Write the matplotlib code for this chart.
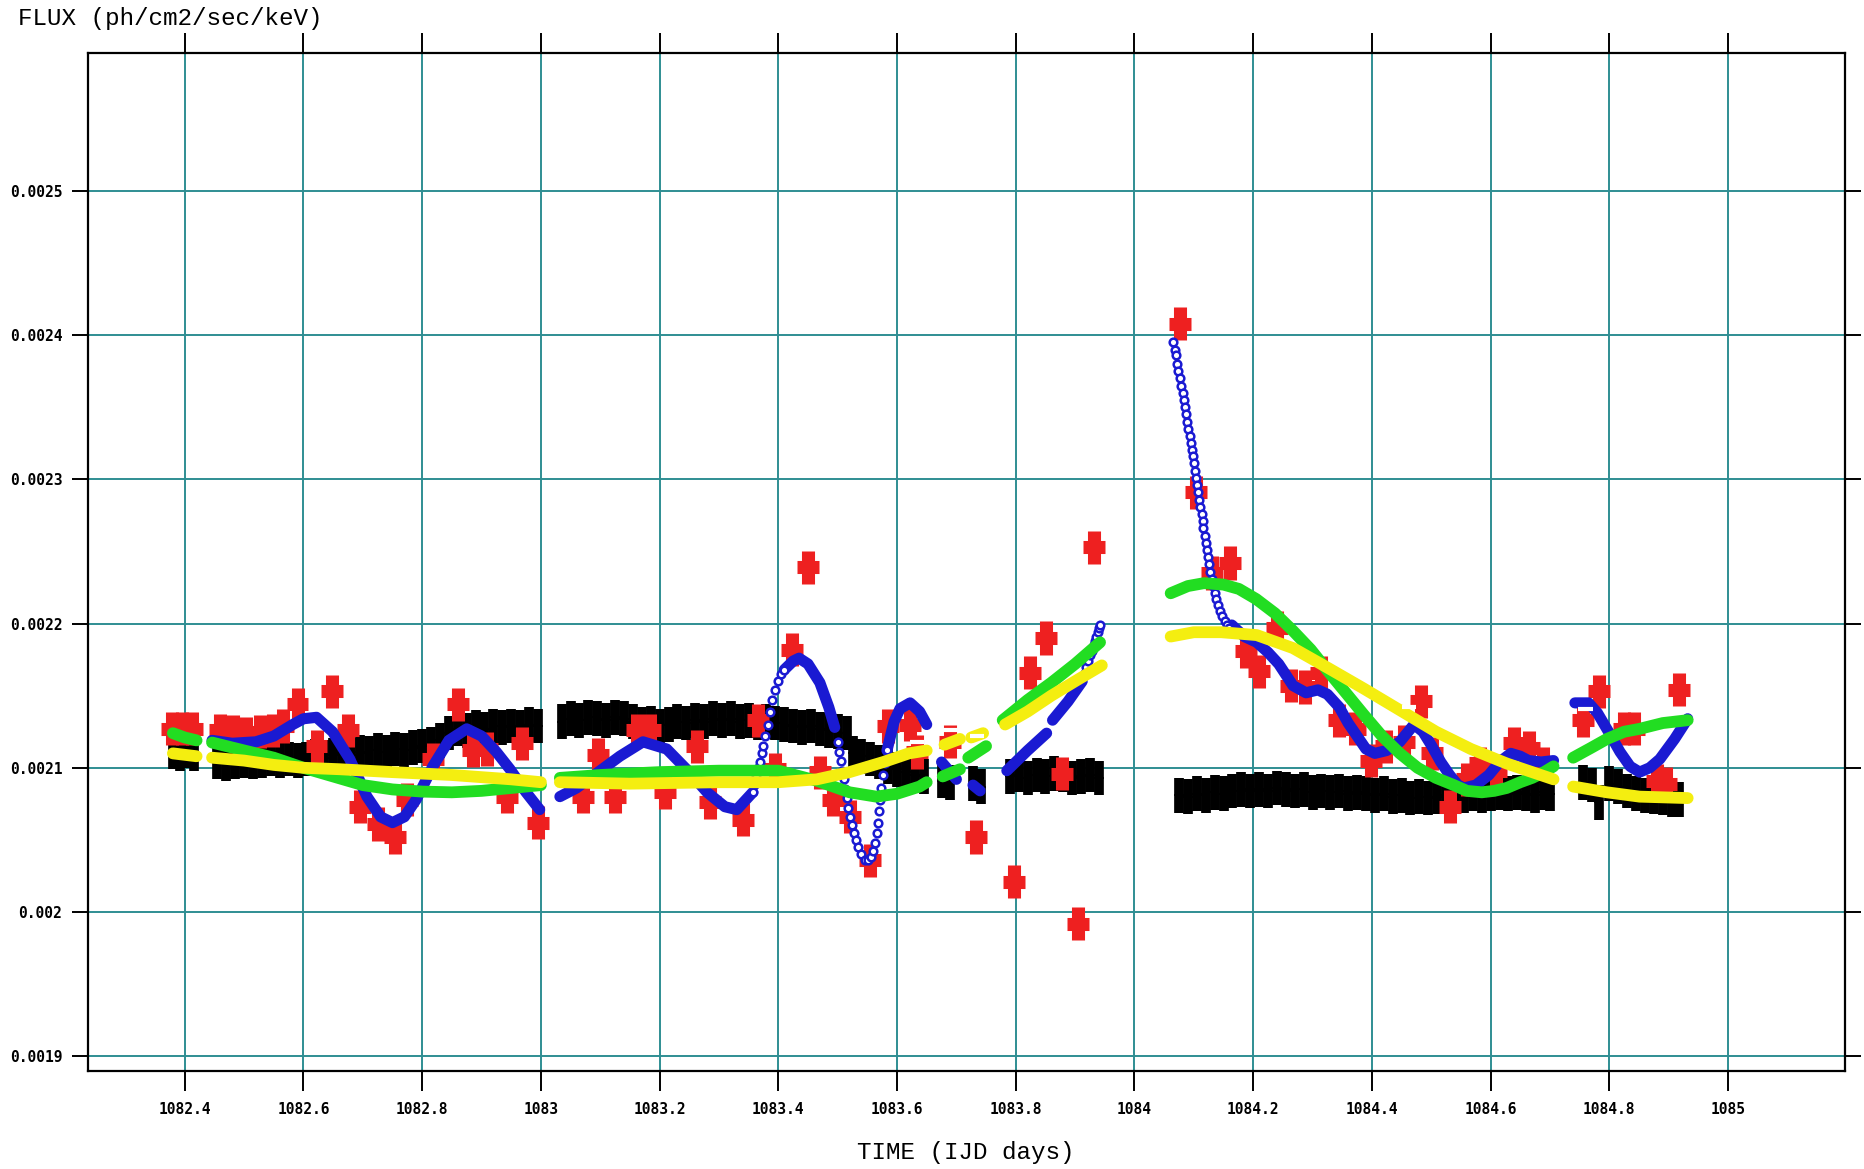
import matplotlib
matplotlib.use("Agg")
import matplotlib.pyplot as plt

# ---- light curve (red crosses) ----
red_t = [1082.378, 1082.395, 1082.412, 1082.459, 1082.481, 1082.504, 1082.526, 1082.548,
         1082.565, 1082.590, 1082.622, 1082.648, 1082.675, 1082.695, 1082.725, 1082.754,
         1082.774, 1082.818, 1082.860, 1082.885, 1082.909, 1082.943, 1082.968, 1082.995,
         1083.071, 1083.097, 1083.125, 1083.162, 1083.184, 1083.209, 1083.263, 1083.285,
         1083.340, 1083.365, 1083.394, 1083.423, 1083.450, 1083.470, 1083.492, 1083.520,
         1083.554, 1083.584, 1083.622, 1083.633, 1083.689, 1083.733, 1083.797, 1083.824,
         1083.851, 1083.878, 1083.905, 1083.932, 1084.077, 1084.103, 1084.131, 1084.161,
         1084.188, 1084.210, 1084.240, 1084.264, 1084.287, 1084.314, 1084.345, 1084.371,
         1084.398, 1084.424, 1084.454, 1084.483, 1084.501, 1084.531, 1084.560, 1084.582,
         1084.609, 1084.640, 1084.665, 1084.688, 1084.755, 1084.782, 1084.825, 1084.841,
         1084.880, 1084.895, 1084.917]
red_f = [0.002127, 0.002127, 0.002127, 0.002126, 0.002125, 0.002124, 0.002125, 0.002126,
         0.002129, 0.002144, 0.002115, 0.002153, 0.002126, 0.002073, 0.002061, 0.002052,
         0.002078, 0.002106, 0.002144, 0.002112, 0.002113, 0.002080, 0.002117, 0.002062,
         0.002080, 0.002109, 0.002080, 0.002126, 0.002126, 0.002083, 0.002115, 0.002076,
         0.002064, 0.002133, 0.002099, 0.002182, 0.002239, 0.002097, 0.002078, 0.002066,
         0.002036, 0.002129, 0.002130, 0.002111, 0.002118, 0.002052, 0.002021, 0.002166,
         0.002190, 0.002096, 0.001992, 0.002253, 0.002408, 0.002291, 0.002235, 0.002242,
         0.002181, 0.002167, 0.002197, 0.002157, 0.002156, 0.002166, 0.002133, 0.002127,
         0.002105, 0.002115, 0.002118, 0.002146, 0.002110, 0.002073, 0.002092, 0.002103,
         0.002098, 0.002117, 0.002114, 0.002103, 0.002133, 0.002153, 0.002127, 0.002127,
         0.002091, 0.002089, 0.002154]

# ---- background level (black squares) ----
blk_t = [1082.380, 1082.392, 1082.404, 1082.416,
         1082.455, 1082.470, 1082.485, 1082.500, 1082.515, 1082.530, 1082.545, 1082.560,
         1082.575, 1082.590, 1082.605, 1082.620, 1082.635, 1082.650, 1082.665, 1082.680,
         1082.695, 1082.710, 1082.725, 1082.740, 1082.755, 1082.770, 1082.785, 1082.800,
         1082.815, 1082.830, 1082.845, 1082.860, 1082.875, 1082.890, 1082.905, 1082.920,
         1082.935, 1082.950, 1082.965, 1082.980, 1082.995,
         1083.035, 1083.050, 1083.065, 1083.080, 1083.095, 1083.110, 1083.125, 1083.140,
         1083.155, 1083.170, 1083.185, 1083.200, 1083.215, 1083.230, 1083.245, 1083.260,
         1083.275, 1083.290, 1083.305, 1083.320, 1083.335, 1083.350, 1083.365, 1083.380,
         1083.395, 1083.410, 1083.425, 1083.440, 1083.455, 1083.470, 1083.485, 1083.500,
         1083.515,
         1083.525, 1083.540, 1083.555, 1083.570, 1083.585, 1083.600, 1083.615, 1083.630,
         1083.645,
         1083.675, 1083.690, 1083.728, 1083.742,
         1083.790, 1083.805, 1083.820, 1083.835, 1083.850, 1083.865, 1083.880, 1083.895,
         1083.910, 1083.925, 1083.940,
         1084.075, 1084.090, 1084.105, 1084.120, 1084.135, 1084.150, 1084.165, 1084.180,
         1084.195, 1084.210, 1084.225, 1084.240, 1084.255, 1084.270, 1084.285, 1084.300,
         1084.315, 1084.330, 1084.345, 1084.360, 1084.375, 1084.390, 1084.405, 1084.420,
         1084.435, 1084.450, 1084.465, 1084.480, 1084.495, 1084.510, 1084.525, 1084.540,
         1084.555, 1084.570, 1084.585, 1084.600, 1084.615, 1084.630, 1084.645, 1084.660,
         1084.675, 1084.690, 1084.700,
         1084.755, 1084.770, 1084.782, 1084.800, 1084.815, 1084.830, 1084.845, 1084.860,
         1084.875, 1084.890, 1084.905, 1084.918]
blk_f = [0.002111, 0.002110, 0.002112, 0.002110,
         0.002104, 0.002103, 0.002104, 0.002105, 0.002104, 0.002105, 0.002106, 0.002105,
         0.002106, 0.002105, 0.002106, 0.002108, 0.002107, 0.002109, 0.002110, 0.002109,
         0.002111, 0.002110, 0.002112, 0.002111, 0.002113, 0.002112, 0.002114, 0.002115,
         0.002116, 0.002119, 0.002124, 0.002127, 0.002126, 0.002128, 0.002127, 0.002129,
         0.002128, 0.002129, 0.002128, 0.002130, 0.002129,
         0.002132, 0.002134, 0.002133, 0.002135, 0.002134, 0.002133, 0.002135, 0.002134,
         0.002132, 0.002130, 0.002131, 0.002129, 0.002130, 0.002132, 0.002131, 0.002133,
         0.002132, 0.002134, 0.002133, 0.002134, 0.002132, 0.002133, 0.002131, 0.002132,
         0.002131, 0.002130, 0.002129, 0.002128, 0.002129, 0.002127, 0.002126, 0.002125,
         0.002124,
         0.002110, 0.002108, 0.002106, 0.002104, 0.002101, 0.002099, 0.002097, 0.002095,
         0.002094,
         0.002091, 0.002090, 0.002089, 0.002087,
         0.002094, 0.002095, 0.002093, 0.002095, 0.002094, 0.002096, 0.002095, 0.002093,
         0.002094, 0.002095, 0.002093,
         0.002081, 0.002080, 0.002082, 0.002081, 0.002083, 0.002082, 0.002084, 0.002085,
         0.002084, 0.002085, 0.002084, 0.002086, 0.002085, 0.002084, 0.002085, 0.002083,
         0.002084, 0.002083, 0.002084, 0.002082, 0.002083, 0.002082, 0.002081, 0.002082,
         0.002080, 0.002081, 0.002079, 0.002080, 0.002079, 0.002080, 0.002081, 0.002080,
         0.002081, 0.002082, 0.002081, 0.002082, 0.002083, 0.002082, 0.002083, 0.002082,
         0.002081, 0.002083, 0.002082,
         0.002090, 0.002088, 0.002076, 0.002089, 0.002087, 0.002084, 0.002082, 0.002081,
         0.002080, 0.002079, 0.002078, 0.002078]

# ---- spline model (blue), dense pieces ----
blue_thick = [
    ([1082.446, 1082.48, 1082.52, 1082.55, 1082.582, 1082.60, 1082.622, 1082.649, 1082.678,
      1082.707, 1082.73, 1082.75, 1082.77, 1082.79, 1082.818, 1082.845, 1082.875, 1082.90,
      1082.925, 1082.948, 1082.975, 1082.998],
     [0.002119, 0.002117, 0.002118, 0.002122, 0.002130, 0.002134, 0.002135, 0.002125, 0.002106,
      0.002080, 0.002066, 0.002062, 0.002066, 0.002078, 0.002101, 0.002119, 0.002127, 0.002122,
      0.002111, 0.002099, 0.002083, 0.002071]),
    ([1083.032, 1083.06, 1083.10, 1083.133, 1083.172, 1083.212, 1083.25, 1083.28, 1083.31,
      1083.33, 1083.357],
     [0.002080, 0.002086, 0.002098, 0.002108, 0.002118, 0.002113, 0.002097, 0.002083, 0.002073,
      0.002071, 0.002083]),
    ([1083.41, 1083.425, 1083.435, 1083.45, 1083.47, 1083.485, 1083.495],
     [0.002168, 0.002174, 0.002176, 0.002172, 0.002159, 0.002142, 0.002128]),
    ([1083.583, 1083.595, 1083.605, 1083.622, 1083.638, 1083.65],
     [0.002112, 0.002132, 0.002141, 0.002145, 0.002139, 0.002130]),
    ([1083.675, 1083.70], [0.002104, 0.002092]),
    ([1083.728, 1083.74], [0.002088, 0.002084]),
    ([1083.785, 1083.82, 1083.852], [0.002098, 0.002112, 0.002124]),
    ([1083.862, 1083.888, 1083.912], [0.002133, 0.002146, 0.002160]),
    ([1084.164, 1084.185, 1084.206, 1084.225, 1084.243, 1084.267, 1084.289, 1084.309, 1084.325,
      1084.345, 1084.36, 1084.375, 1084.39, 1084.405, 1084.425, 1084.447, 1084.471, 1084.486,
      1084.501, 1084.516, 1084.531, 1084.545, 1084.555, 1084.575, 1084.597, 1084.615, 1084.634,
      1084.65, 1084.664, 1084.685, 1084.706],
     [0.002199, 0.002191, 0.002187, 0.002180, 0.002172, 0.002157, 0.002152, 0.002154, 0.002151,
      0.002142, 0.002131, 0.002122, 0.002113, 0.002110, 0.002112, 0.002118, 0.002130, 0.002125,
      0.002115, 0.002104, 0.002095, 0.002088, 0.002086, 0.002088, 0.002095, 0.002104, 0.002110,
      0.002108, 0.002105, 0.002104, 0.002105]),
    ([1084.742, 1084.765, 1084.78, 1084.80, 1084.818, 1084.835, 1084.851, 1084.868, 1084.885,
      1084.91, 1084.932],
     [0.002145, 0.002145, 0.002138, 0.002124, 0.002111, 0.002101, 0.002097, 0.002100, 0.002106,
      0.002120, 0.002134]),
]

# ---- spline model (blue), steep pieces where single circles show ----
blue_dots_t = [1083.357, 1083.360, 1083.363, 1083.366, 1083.369, 1083.372, 1083.375, 1083.378,
               1083.382, 1083.386, 1083.390, 1083.395, 1083.400, 1083.405, 1083.410,
               1083.500, 1083.503, 1083.505, 1083.508, 1083.510, 1083.513, 1083.515, 1083.518,
               1083.520, 1083.524, 1083.527, 1083.531, 1083.535, 1083.540, 1083.546, 1083.551,
               1083.556, 1083.560, 1083.563, 1083.566, 1083.568, 1083.570, 1083.571, 1083.573,
               1083.576, 1083.579, 1083.583,
               1083.916, 1083.919, 1083.922, 1083.925, 1083.928, 1083.931, 1083.933, 1083.936,
               1083.938, 1083.940, 1083.942,
               1084.065, 1084.068, 1084.070, 1084.072, 1084.074, 1084.077, 1084.079, 1084.081,
               1084.083, 1084.085, 1084.087, 1084.089, 1084.091, 1084.093, 1084.095, 1084.097,
               1084.098, 1084.100, 1084.102, 1084.104, 1084.105, 1084.107, 1084.109, 1084.111,
               1084.113, 1084.115, 1084.116, 1084.118, 1084.120, 1084.122, 1084.124, 1084.126,
               1084.127, 1084.130, 1084.132, 1084.135, 1084.137, 1084.140, 1084.144, 1084.148,
               1084.152, 1084.156, 1084.160, 1084.165, 1084.170]
blue_dots_f = [0.002083, 0.002089, 0.002095, 0.002100, 0.002104, 0.002110, 0.002115, 0.002122,
               0.002130, 0.002139, 0.002147, 0.002154, 0.002160, 0.002165, 0.002168,
               0.002118, 0.002111, 0.002105, 0.002098, 0.002092, 0.002085, 0.002079, 0.002072,
               0.002066, 0.002060, 0.002055, 0.002050, 0.002045, 0.002040, 0.002036, 0.002036,
               0.002038, 0.002042, 0.002048, 0.002055, 0.002062, 0.002070, 0.002078, 0.002086,
               0.002095, 0.002103, 0.002112,
               0.002166, 0.002170, 0.002174, 0.002178, 0.002181, 0.002185, 0.002188, 0.002191,
               0.002194, 0.002197, 0.002199,
               0.002395, 0.002390, 0.002386, 0.002380, 0.002375, 0.002370, 0.002365, 0.002360,
               0.002355, 0.002350, 0.002345, 0.002340, 0.002335, 0.002330, 0.002325, 0.002320,
               0.002316, 0.002311, 0.002306, 0.002301, 0.002296, 0.002291, 0.002286, 0.002281,
               0.002276, 0.002271, 0.002266, 0.002261, 0.002256, 0.002251, 0.002246, 0.002241,
               0.002236, 0.002231, 0.002226, 0.002221, 0.002217, 0.002213, 0.002209, 0.002205,
               0.002202, 0.002199, 0.002197, 0.002195, 0.002194]

# ---- smooth fits (green, yellow) ----
green_segs = [
    ([1082.38, 1082.40, 1082.42], [0.002124, 0.002121, 0.002119]),
    ([1082.446, 1082.50, 1082.55, 1082.60, 1082.65, 1082.70, 1082.75, 1082.80, 1082.85,
      1082.90, 1082.95, 1083.0],
     [0.0021175, 0.002112, 0.002107, 0.002100, 0.002094, 0.002088, 0.002085, 0.0020835,
      0.002083, 0.002084, 0.002086, 0.002088]),
    ([1083.032, 1083.10, 1083.20, 1083.30, 1083.40, 1083.465, 1083.52, 1083.565, 1083.60,
      1083.638, 1083.65],
     [0.002093, 0.002095, 0.002097, 0.002098, 0.002098, 0.002091, 0.002083, 0.002080, 0.002082,
      0.002087, 0.002090]),
    ([1083.677, 1083.706], [0.002094, 0.002099]),
    ([1083.72, 1083.75], [0.002107, 0.002115]),
    ([1083.778, 1083.82, 1083.86, 1083.90, 1083.942],
     [0.002133, 0.002147, 0.002159, 0.002172, 0.002187]),
    ([1084.061, 1084.09, 1084.117, 1084.15, 1084.176, 1084.205, 1084.237, 1084.267, 1084.297,
      1084.326, 1084.356, 1084.386, 1084.417, 1084.447, 1084.477, 1084.508, 1084.538, 1084.56,
      1084.585, 1084.606, 1084.627, 1084.65, 1084.67, 1084.69, 1084.706],
     [0.002221, 0.002226, 0.002228, 0.002227, 0.002224, 0.002217, 0.002207, 0.002195, 0.002182,
      0.002167, 0.002152, 0.002137, 0.002122, 0.002110, 0.002100, 0.002093, 0.002088, 0.002084,
      0.002083, 0.002084, 0.002086, 0.002090, 0.002093, 0.002097, 0.002101]),
    ([1084.739, 1084.77, 1084.796, 1084.825, 1084.851, 1084.89, 1084.932],
     [0.002107, 0.002114, 0.002120, 0.002125, 0.002127, 0.002131, 0.002133]),
]
yellow_segs = [
    ([1082.38, 1082.40, 1082.42], [0.002110, 0.002109, 0.002108]),
    ([1082.446, 1082.50, 1082.55, 1082.60, 1082.661, 1082.75, 1082.85, 1082.95, 1083.0],
     [0.002107, 0.002105, 0.002102, 0.002100, 0.002099, 0.002097, 0.002095, 0.002092, 0.002090]),
    ([1083.032, 1083.15, 1083.30, 1083.40, 1083.465, 1083.52, 1083.577, 1083.62, 1083.65],
     [0.002090, 0.002089, 0.002090, 0.002090, 0.002092, 0.002097, 0.002104, 0.002110, 0.002112]),
    ([1083.68, 1083.706], [0.002116, 0.002120]),
    ([1083.725, 1083.745], [0.002121, 0.002124]),
    ([1083.782, 1083.82, 1083.86, 1083.90, 1083.945],
     [0.002130, 0.002139, 0.002150, 0.002160, 0.002171]),
    ([1084.061, 1084.10, 1084.146, 1084.206, 1084.267, 1084.327, 1084.386, 1084.447, 1084.508,
      1084.567, 1084.627, 1084.67, 1084.706],
     [0.002191, 0.002194, 0.002194, 0.002192, 0.002183, 0.002169, 0.002155, 0.002140, 0.002125,
      0.002113, 0.002103, 0.002097, 0.002092]),
    ([1084.739, 1084.796, 1084.851, 1084.932], [0.002087, 0.002083, 0.002080, 0.002079]),
]

# ---- white residual ticks drawn over the fits ----
white_t = [1083.633, 1083.690, 1083.735, 1084.462, 1084.760]
white_f = [0.002118, 0.002126, 0.002122, 0.002142, 0.002141]

xticks = [1082.4, 1082.6, 1082.8, 1083.0, 1083.2, 1083.4, 1083.6, 1083.8, 1084.0,
          1084.2, 1084.4, 1084.6, 1084.8, 1085.0]
xlabels = ["1082.4", "1082.6", "1082.8", "1083", "1083.2", "1083.4", "1083.6", "1083.8",
           "1084", "1084.2", "1084.4", "1084.6", "1084.8", "1085"]
yticks = [0.0019, 0.0020, 0.0021, 0.0022, 0.0023, 0.0024, 0.0025]
ylabels = ["0.0019", "0.002", "0.0021", "0.0022", "0.0023", "0.0024", "0.0025"]

RED = "#ee2020"
BLUE = "#1a1ad2"
GREEN = "#22dd22"
YELLOW = "#f4ee10"
GRID = "#2f8e93"

fig = plt.figure(figsize=(18.64, 11.69), dpi=100)
ax = fig.add_axes([0.0472, 0.0841, 0.9426, 0.8706])

# black background points: thick vertical bars plus thin time bins
ax.errorbar(blk_t, blk_f, yerr=1.2e-5, fmt="none", ecolor="black", elinewidth=7, zorder=2)
ax.errorbar(blk_t, blk_f, xerr=0.008, fmt="none", ecolor="black", elinewidth=1.2, zorder=2)

# red source points
ax.errorbar(red_t, red_f, yerr=1.15e-5, xerr=0.0185, fmt="none", ecolor=RED,
            elinewidth=9.4, zorder=3)

# blue model
for t, f in blue_thick:
    ax.plot(t, f, color=BLUE, lw=8, solid_capstyle="round", zorder=4)
ax.plot(blue_dots_t, blue_dots_f, ls="none", marker="o", ms=5.5, mfc="white",
        mec=BLUE, mew=1.8, zorder=4)

for t, f in green_segs:
    ax.plot(t, f, color=GREEN, lw=8.5, solid_capstyle="round", zorder=5)
for t, f in yellow_segs:
    ax.plot(t, f, color=YELLOW, lw=8.5, solid_capstyle="round", zorder=6)

ax.errorbar(white_t, white_f, xerr=0.012, fmt="none", ecolor="white", elinewidth=3, zorder=7)

ax.set_xlim(1082.237, 1085.197)
ax.set_ylim(0.001890, 0.0025956)
ax.set_xticks(xticks)
ax.set_xticklabels(xlabels)
ax.set_yticks(yticks)
ax.set_yticklabels(ylabels)

ax.grid(True, color=GRID, lw=1.4)
ax.set_axisbelow(True)
for s in ax.spines.values():
    s.set_linewidth(1.6)

ax.tick_params(axis="x", direction="out", top=True, length=14.4, width=1.4, pad=8.5)
ax.tick_params(axis="y", direction="out", right=True, length=11.5, width=1.4, pad=7)
for lab in ax.get_xticklabels() + ax.get_yticklabels():
    lab.set_fontfamily("DejaVu Sans Mono")
    lab.set_fontweight("bold")
    lab.set_fontsize(10.5)

fig.text(18 / 1864, 1 - 19 / 1169, "FLUX (ph/cm2/sec/keV)", family="Liberation Mono",
         fontsize=17.5, ha="left", va="center")
fig.text(966 / 1864, 1 - 1153 / 1169, "TIME (IJD days)", family="Liberation Mono",
         fontsize=17.5, ha="center", va="center")

fig.savefig("out.png", dpi=100)
